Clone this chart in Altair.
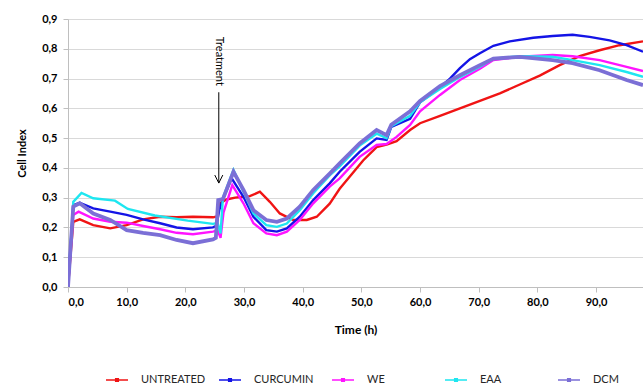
import altair as alt
import pandas as pd

series_names = ["UNTREATED", "CURCUMIN", "WE", "EAA", "DCM"]
series_colors = ["#f01414", "#1414e6", "#ff14ff", "#1ee6f0", "#7b6fd6"]

untreated_t = [0, 0.9, 2, 4.3, 7.2, 10, 12.8, 15.7, 18.5, 21.3, 24.7, 25.4, 25.8, 27, 28.5, 29.9, 31,
               32.7, 34.4, 36.1, 38.4, 40.7, 42.4, 44.6, 46.3, 48, 50.3, 52.6, 54.3, 56, 58.3, 60,
               63.4, 66.8, 70.2, 73.6, 77, 80.4, 83.8, 87.2, 90.6, 94, 98]
untreated_v = [0, 0.219, 0.227, 0.208, 0.197, 0.208, 0.227, 0.236, 0.234, 0.236, 0.234, 0.237, 0.28,
               0.294, 0.30, 0.303, 0.305, 0.320, 0.286, 0.247, 0.225, 0.225, 0.236, 0.28, 0.33, 0.37,
               0.425, 0.47, 0.478, 0.49, 0.527, 0.55, 0.575, 0.60, 0.625, 0.65, 0.68, 0.71, 0.745,
               0.775, 0.795, 0.812, 0.825]

curcumin_t = [0, 0.9, 2, 4.3, 7.2, 10, 12.8, 15.7, 18.5, 21.3, 24.7, 25.3, 25.8, 26.5, 27.9, 29.9,
              31.6, 33.8, 35.6, 37.3, 39.5, 41.8, 44.6, 46.3, 49.7, 52.6, 54.3, 55.1, 58.3, 60, 63.4,
              65.1, 66.8, 68.5, 70.2, 72.5, 75.3, 79.3, 82.6, 86, 88.9, 92.3, 95.2, 98]
curcumin_v = [0, 0.275, 0.283, 0.264, 0.253, 0.242, 0.227, 0.214, 0.200, 0.194, 0.200, 0.205, 0.26,
              0.30, 0.365, 0.303, 0.236, 0.191, 0.186, 0.197, 0.236, 0.292, 0.348, 0.387, 0.454,
              0.499, 0.494, 0.538, 0.565, 0.62, 0.67, 0.70, 0.735, 0.765, 0.785, 0.81, 0.825, 0.837,
              0.843, 0.847, 0.84, 0.828, 0.812, 0.79]

we_t = [0, 0.9, 1.8, 4.3, 7.2, 10, 12.8, 15.7, 18.5, 21.3, 24.7, 25.5, 26, 26.5, 28, 29.9, 31.6,
        33.8, 35.6, 37.3, 39.5, 41.8, 44.6, 46.3, 49.7, 52.6, 54.3, 56, 58.3, 60, 63.4, 66.8, 70.2,
        72.5, 77, 82.6, 86, 90.6, 95.2, 98]
we_v = [0, 0.242, 0.253, 0.230, 0.219, 0.216, 0.205, 0.194, 0.182, 0.177, 0.186, 0.19, 0.165, 0.25,
        0.342, 0.281, 0.214, 0.18, 0.174, 0.186, 0.225, 0.281, 0.337, 0.365, 0.437, 0.477, 0.48,
        0.504, 0.544, 0.59, 0.645, 0.695, 0.733, 0.762, 0.773, 0.779, 0.775, 0.762, 0.739, 0.725]

eaa_t = [0, 0.9, 2.3, 4.3, 8, 10.2, 14.8, 20.4, 24.7, 25.5, 26, 26.4, 28.2, 29.9, 31.6, 33.8, 35.6,
         37.3, 39.5, 41.8, 44.6, 46.3, 49.7, 52.6, 54.3, 55.1, 58.3, 60, 63.4, 66.8, 70.2, 72.5, 77,
         82.6, 86, 90.6, 95.2, 98]
eaa_v = [0, 0.286, 0.316, 0.298, 0.29, 0.262, 0.24, 0.223, 0.212, 0.215, 0.18, 0.30, 0.393, 0.32,
         0.247, 0.208, 0.202, 0.213, 0.258, 0.315, 0.375, 0.405, 0.475, 0.515, 0.50, 0.54, 0.575,
         0.62, 0.665, 0.705, 0.74, 0.767, 0.775, 0.773, 0.762, 0.745, 0.722, 0.706]

dcm_t = [0, 0.9, 2, 4.3, 7.2, 10, 12.8, 15.7, 18.5, 21.3, 24.7, 25.2, 25.6, 26.4, 28.2, 29.9, 31.6,
         33.8, 35.6, 37.3, 39.5, 41.8, 44.6, 46.3, 49.7, 52.6, 54.3, 55.1, 58.3, 60, 63.4, 66.8,
         70.2, 72.5, 77, 82.6, 86, 90.6, 95.2, 98]
dcm_v = [0, 0.270, 0.281, 0.247, 0.225, 0.191, 0.182, 0.174, 0.158, 0.147, 0.160, 0.165, 0.292,
         0.295, 0.387, 0.326, 0.258, 0.225, 0.219, 0.230, 0.270, 0.326, 0.381, 0.415, 0.482, 0.527,
         0.510, 0.545, 0.59, 0.625, 0.675, 0.711, 0.745, 0.767, 0.773, 0.762, 0.752, 0.728, 0.695,
         0.678]

x_ticks = [0, 10, 20, 30, 40, 50, 60, 70, 80, 90]
y_ticks = [0, 0.1, 0.2, 0.3, 0.4, 0.5, 0.6, 0.7, 0.8, 0.9]

treat_time = [25.7]
treat_label_value = [0.758]
arrow_top = [0.654]
arrow_tip = [0.349]
treat_label = ["Treatment"]

rows = []
for name, ts, vs in [("UNTREATED", untreated_t, untreated_v), ("CURCUMIN", curcumin_t, curcumin_v),
                     ("WE", we_t, we_v), ("EAA", eaa_t, eaa_v), ("DCM", dcm_t, dcm_v)]:
    for i, (t, v) in enumerate(zip(ts, vs)):
        rows.append({"series": name, "time": t, "value": v, "order": i})
df = pd.DataFrame(rows)

ann = pd.DataFrame({"time": treat_time, "label_v": treat_label_value, "top": arrow_top,
                    "tip": arrow_tip, "label": treat_label})

FONT = "Lato"
label_expr = "replace(format(datum.value, '.1f'), '.', ',')"

x_scale = alt.Scale(domain=[0, 98], nice=False, zero=False)
y_scale = alt.Scale(domain=[0, 0.9], nice=False)

x_axis = alt.Axis(title="Time (h)", values=x_ticks, labelExpr=label_expr, grid=False,
                  domainColor="#bfbfbf", tickColor="#bfbfbf", tickSize=5,
                  labelFont=FONT, labelFontSize=11, labelFontWeight="bold",
                  labelColor="#000000", labelPadding=4, labelOverlap=False, titleFont=FONT,
                  titleFontSize=12, titleFontWeight="bold", titleColor="#000000",
                  titlePadding=17)
y_axis = alt.Axis(title="Cell Index", values=y_ticks, labelExpr=label_expr, grid=True,
                  gridColor="#d9d9d9", domainColor="#bfbfbf", tickColor="#bfbfbf",
                  tickSize=5, labelFont=FONT, labelFontSize=11, labelFontWeight="bold",
                  labelColor="#000000", labelPadding=6, labelOverlap=False, titleFont=FONT,
                  titleFontSize=11, titleFontWeight="bold", titleColor="#000000",
                  titlePadding=14)

color = alt.Color("series:N", scale=alt.Scale(domain=series_names, range=series_colors),
                  sort=series_names,
                  legend=alt.Legend(title=None, orient="none", legendX=37, legendY=349,
                                    direction="horizontal", columns=5, gridAlign="all",
                                    columnPadding=10,
                                    symbolType="M-1,0H1M-0.12,-0.12H0.12V0.12H-0.12Z",
                                    symbolSize=484, symbolStrokeWidth=1.5, labelOffset=12,
                                    labelFont=FONT, labelFontSize=11, labelColor="#262626"))

base = alt.Chart(df)
lines = base.transform_filter(alt.datum.series != "DCM").mark_line(strokeWidth=2.4, clip=True).encode(
    x=alt.X("time:Q", scale=x_scale, axis=x_axis),
    y=alt.Y("value:Q", scale=y_scale, axis=y_axis),
    color=color, order="order:Q")
dcm_line = base.transform_filter(alt.datum.series == "DCM").mark_line(strokeWidth=3.8, clip=True).encode(
    x=alt.X("time:Q", scale=x_scale, axis=x_axis),
    y=alt.Y("value:Q", scale=y_scale, axis=y_axis),
    color=color, order="order:Q")

ann_base = alt.Chart(ann)
arrow_line = ann_base.mark_rule(color="#000000", strokeWidth=1).encode(
    x=alt.X("time:Q", scale=x_scale, axis=x_axis),
    y=alt.Y("top:Q", scale=y_scale, axis=y_axis), y2="tip:Q")
arrow_head = ann_base.mark_point(shape="M-1,-2L0,0L1,-2", size=64, filled=False,
                                 color="#000000", strokeWidth=1, opacity=1).encode(
    x=alt.X("time:Q", scale=x_scale, axis=x_axis),
    y=alt.Y("tip:Q", scale=y_scale, axis=y_axis))
arrow_text = ann_base.mark_text(angle=90, font=FONT, fontSize=11, color="#000000",
                                align="center", baseline="middle").encode(
    x=alt.X("time:Q", scale=x_scale, axis=x_axis),
    y=alt.Y("label_v:Q", scale=y_scale, axis=y_axis), text="label:N")

chart = alt.layer(lines, dcm_line, arrow_line, arrow_head, arrow_text).properties(
    width=575, height=268,
    autosize=alt.AutoSizeParams(type="none"),
    padding={"left": 68, "top": 19, "right": 0, "bottom": 99},
    background="#ffffff",
).configure_view(stroke=None)

chart.save("out.html", embed_options={"renderer": "svg", "actions": False})
